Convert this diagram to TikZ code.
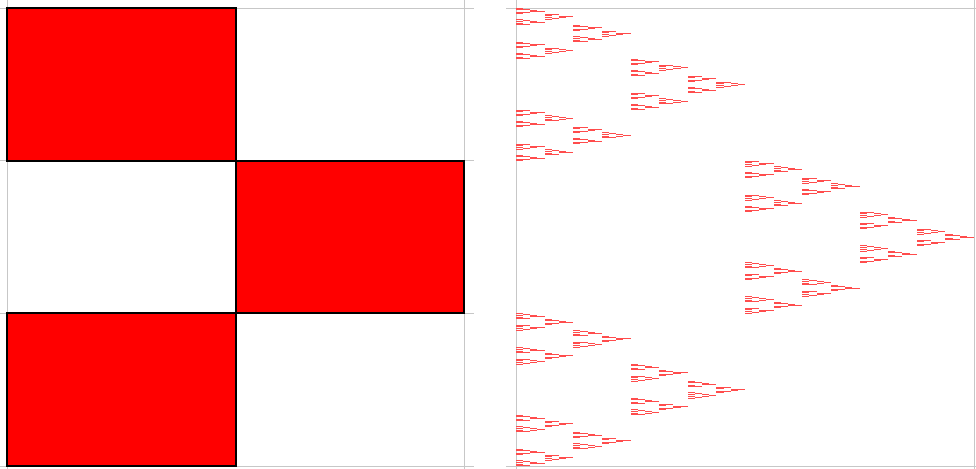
\documentclass[tikz,border=0pt]{standalone}
\usepackage{tikz}

% one step of the substitution: red cells top-left, middle-right, bottom-left
\newcommand\fractile[5]{%
  \ifnum#5=0
    \fill[tile] (#1,#2) rectangle ++(#3,#4);
  \else
    \begingroup
    \edef\fx{#1}\edef\fy{#2}\edef\fw{#3}\edef\fh{#4}\edef\fd{#5}%
    \pgfmathsetmacro\hw{\fw/2}%
    \pgfmathsetmacro\th{\fh/3}%
    \pgfmathsetmacro\xm{\fx+\hw}%
    \pgfmathsetmacro\ya{\fy+\th}%
    \pgfmathsetmacro\yb{\fy+2*\th}%
    \pgfmathtruncatemacro\dd{\fd-1}%
    \fractile{\fx}{\fy}{\hw}{\th}{\dd}%
    \fractile{\xm}{\ya}{\hw}{\th}{\dd}%
    \fractile{\fx}{\yb}{\hw}{\th}{\dd}%
    \endgroup
  \fi}

\begin{document}
\begin{tikzpicture}[
    x=1pt, y=-1pt,
    frame/.style={draw=black!22, line width=0.9pt},
    redcell/.style={fill=red, draw=black, line width=2pt},
    tile/.style={red!70}
]
    \clip (0,0) rectangle (976,468);
    \fill[white] (0,0) rectangle (976,468);

    % left panel: frame lines
    \foreach \xx in {7,464} \draw[frame] (\xx,-5) -- (\xx,476);
    \foreach \yy in {8,466} \draw[frame] (-5,\yy) -- (474,\yy);
    \foreach \yy in {160.7,313.3} {
        \draw[frame] (-3,\yy) -- (7,\yy);
        \draw[frame] (464,\yy) -- (474,\yy);
    }

    % left panel: the 2x3 pattern
    \draw[redcell] (7,8) rectangle (235.5,160.7);
    \draw[redcell] (235.5,160.7) rectangle (464,313.3);
    \draw[redcell] (7,313.3) rectangle (235.5,466);

    % right panel: frame lines
    \foreach \xx in {516,974} \draw[frame] (\xx,-5) -- (\xx,476);
    \foreach \yy in {8,466} \draw[frame] (506,\yy) -- (984,\yy);

    % right panel: pattern applied six times
    \fractile{516}{8}{458}{458}{6}
\end{tikzpicture}
\end{document}
